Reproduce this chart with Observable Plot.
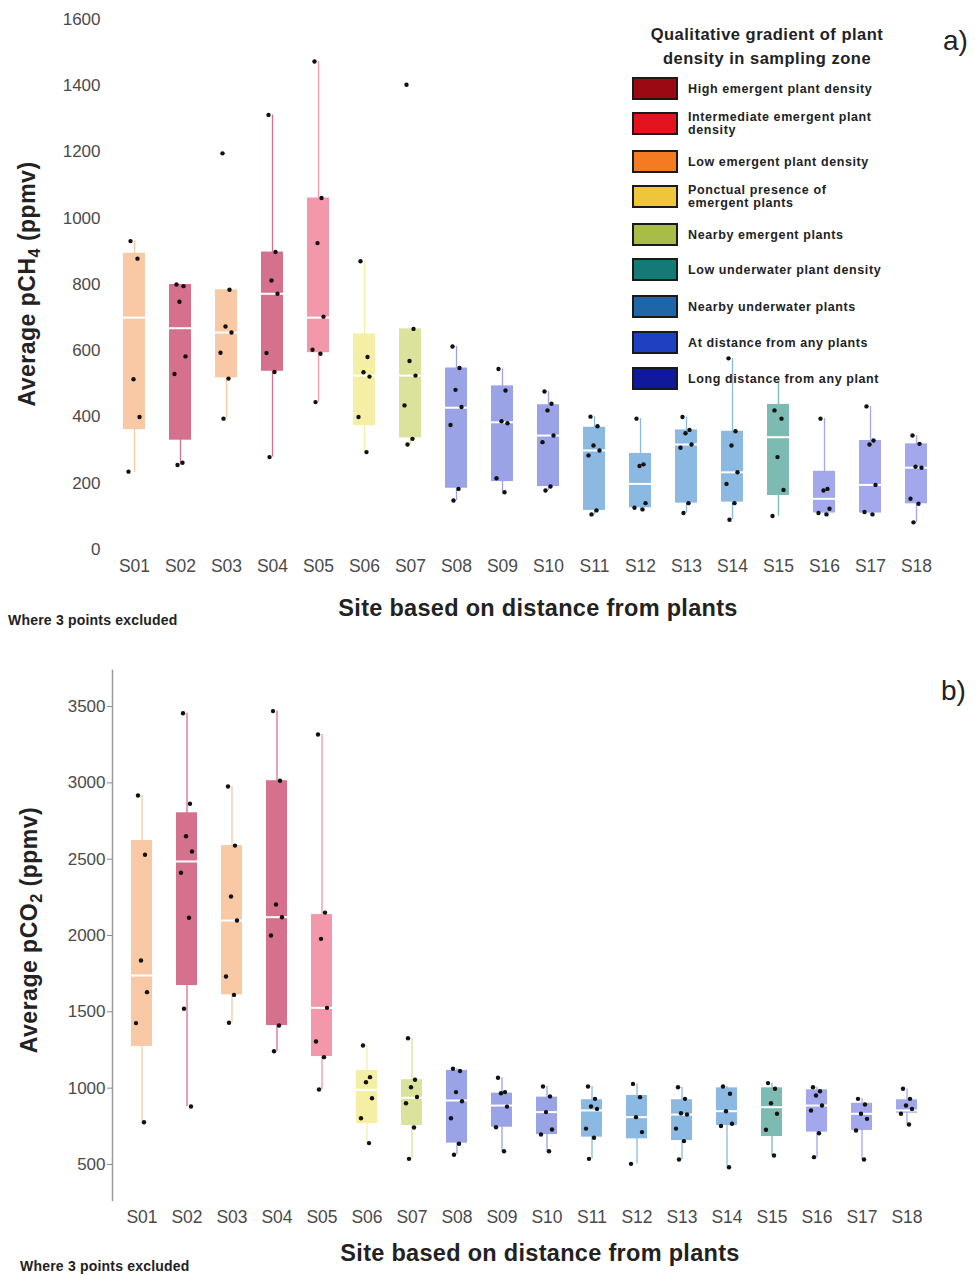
<!DOCTYPE html>
<html><head><meta charset="utf-8">
<script src="https://cdn.jsdelivr.net/npm/d3@7"></script>
<script src="https://cdn.jsdelivr.net/npm/@observablehq/plot@0.6"></script>
<style>
body{margin:0;background:#fff;font-family:"Liberation Sans",Arial,sans-serif;color:#222;}
#wrap{position:relative;width:977px;height:1275px;overflow:hidden;background:#fff;}
.abs{position:absolute;white-space:nowrap;}
.ytitle{font-weight:bold;font-size:23px;letter-spacing:0.5px;transform:translate(-50%,-50%) rotate(-90deg);}
.xtitle{font-weight:bold;font-size:23.5px;letter-spacing:0.3px;transform:translate(-50%,-50%);}
.note{font-weight:bold;font-size:14px;letter-spacing:0.2px;}
.tag{font-size:28px;}
.legend{position:absolute;left:627px;top:22px;width:280px;}
.legend .lt{font-weight:bold;font-size:16.5px;letter-spacing:0.5px;text-align:center;line-height:24px;width:280px;margin-left:0px;}
.sw{position:absolute;left:5px;width:42px;height:19px;border:2px solid #1a1a1a;}
.lb{position:absolute;left:61px;font-weight:bold;font-size:12.5px;letter-spacing:0.6px;line-height:13px;color:#222;white-space:nowrap;}
svg{position:absolute;left:0;}
</style></head><body><div id="wrap"></div>
<script>
const sites = ["S01","S02","S03","S04","S05","S06","S07","S08","S09","S10","S11","S12","S13","S14","S15","S16","S17","S18"];
// legend categories assigned to each site
const siteCategory = ["low","high","low","high","inter","ponct","nearEm","atDist","atDist","atDist","nearUw","nearUw","nearUw","nearUw","lowUw","longDist","longDist","longDist"];
const legendKeys = ["high","inter","low","ponct","nearEm","lowUw","nearUw","atDist","longDist"];
const legendLabels = ["High emergent plant density","Intermediate emergent plant<br>density","Low emergent plant density","Ponctual presence of<br>emergent plants","Nearby emergent plants","Low underwater plant density","Nearby underwater plants","At distance from any plants","Long distance from any plant"];

// panel a) CH4 (ppmv)
const ch4Low    = [233,255,395,279,445,294,317,148,173,178,106,121,110, 90,101,106,106, 82];
const ch4Q1     = [362,330,518,538,594,374,337,185,205,190,118,126,140,143,163,110,110,138];
const ch4Median = [700,668,655,772,700,525,525,428,384,344,299,198,317,233,339,153,195,247];
const ch4Q3     = [894,800,784,898,1061,651,666,548,494,437,369,290,361,357,438,236,329,319];
const ch4High   = [931,800,784,1312,1473,870,666,613,545,477,401,395,400,577,505,395,432,344];
const ch4Points = [
  [931,878,514,400,235],
  [800,795,748,583,530,262,255],
  [1196,784,673,655,594,516,395],
  [1312,898,812,772,593,536,279],
  [1473,1061,925,703,603,591,445],
  [870,581,535,522,400,294],
  [1403,666,569,525,435,334,317],
  [613,548,482,430,376,183,148],
  [545,480,387,381,215,173],
  [477,440,420,344,324,190,178],
  [401,372,314,299,284,118,106],
  [395,257,252,140,126,121],
  [400,361,351,317,307,140,110],
  [577,357,314,233,198,140,90],
  [420,395,279,180,101],
  [395,183,178,123,110,106],
  [432,329,317,195,113,106],
  [344,319,250,247,153,138,82]
];
// panel b) CO2 (ppmv)
const co2Low    = [777,880,1428,1242,991,640,537,564,587,587,537,504,533,482,559,548,533,762];
const co2Q1     = [1273,1672,1611,1410,1207,767,755,640,744,696,679,668,657,755,683,712,723,836];
const co2Median = [1738,2485,2098,2120,1526,989,937,919,886,843,854,810,827,849,875,886,832,854];
const co2Q3     = [2622,2804,2589,3014,2137,1116,1055,1116,967,941,924,952,924,1002,1002,989,901,924];
const co2High   = [2917,3456,2976,3470,3317,1279,1327,1127,1068,1011,1011,1028,1006,1011,1033,1006,930,996];
const co2Points = [
  [2917,2529,1836,1629,1426,777],
  [3456,2863,2650,2550,2411,2116,1520,880],
  [2976,2589,2255,2098,1731,1611,1428],
  [3470,3014,2203,2120,2000,1410,1242],
  [3317,2150,1978,1526,1306,1203,991],
  [1279,1072,1039,934,803,640],
  [1327,1055,1006,942,901,742,537],
  [1127,1112,974,914,803,636,564],
  [1068,974,967,879,744,587],
  [1011,946,843,729,696,587],
  [1011,930,880,864,735,675,537],
  [1028,941,810,712,504],
  [1006,930,836,827,735,653,533],
  [1011,963,849,767,752,482],
  [1033,996,901,832,727,559],
  [1006,980,952,886,854,705,548],
  [930,893,832,799,723,533],
  [996,930,886,864,832,762]
];
const ch4Ticks = [0,200,400,600,800,1000,1200,1400,1600];
const co2Ticks = [500,1000,1500,2000,2500,3000,3500];

// styles
const boxFill = {high:"#d6718d",inter:"#f397aa",low:"#f8c9a4",ponct:"#f5efa6",nearEm:"#dae29c",lowUw:"#7dbab2",nearUw:"#8cb9e2",atDist:"#99a3e5",longDist:"#a3a8ec"};
const legendFill = {high:"#9b0a12",inter:"#e3141e",low:"#f47b22",ponct:"#eec63a",nearEm:"#a8bd47",lowUw:"#147a76",nearUw:"#1e66a8",atDist:"#2040c2",longDist:"#10199b"};
const jitter = [-4,3,-1,5,-6,2,-3,4];

const wrap = document.getElementById("wrap");

function buildPanel(low,q1,med,q3,high,pts,cfg){
  const stats = sites.map((s,i)=>({site:s,cat:siteCategory[i],lo:low[i],q1:q1[i],med:med[i],q3:q3[i],hi:high[i]}));
  const dots = [];
  pts.forEach((arr,i)=>arr.forEach((v,j)=>dots.push({site:sites[i],v,j})));
  const dotMarks = jitter.map((dx,k)=>Plot.dot(dots.filter(d=>d.j%jitter.length===k),{x:"site",y:"v",r:2.2,fill:"#111",stroke:"none",dx}));
  const marks = [];
  if (cfg.frameLeft) marks.push(Plot.frame({anchor:"left",stroke:"#9a9a9a",strokeWidth:1.5}));
  marks.push(
    Plot.ruleX(stats,{x:"site",y1:"lo",y2:"hi",stroke:d=>boxFill[d.cat],strokeWidth:1.3}),
    Plot.barY(stats,{x:"site",y1:"q1",y2:"q3",fill:d=>boxFill[d.cat]}),
    Plot.tickY(stats,{x:"site",y:"med",stroke:"white",strokeWidth:2}),
    ...dotMarks,
    Plot.axisY({ticks:cfg.ticks,tickSize:cfg.tickSize,tickPadding:cfg.tickPadding,fontSize:17,fill:"#4a4a4a",stroke:"#888",label:null,tickFormat:d=>String(d)}),
    Plot.axisX({tickSize:0,tickPadding:cfg.xPad,fontSize:17.5,fill:"#4a4a4a",label:null})
  );
  const svg = Plot.plot({
    width:977,height:cfg.height,
    marginTop:cfg.mt,marginBottom:cfg.mb,marginLeft:cfg.ml,marginRight:25,
    style:{fontFamily:"'Liberation Sans',Arial,sans-serif",background:"transparent"},
    x:{type:"band",domain:sites,range:cfg.xRange,padding:cfg.pad,axis:null},
    y:{domain:cfg.yDomain,axis:null},
    color:{type:"identity"},
    marks
  });
  svg.style.top = cfg.top+"px";
  wrap.appendChild(svg);
}

buildPanel(ch4Low,ch4Q1,ch4Median,ch4Q3,ch4High,ch4Points,{
  top:0,height:640,mt:19,mb:91,ml:110,xRange:[97.8,951.3],pad:0.53,yDomain:[0,1600],
  ticks:ch4Ticks,tickSize:0,tickPadding:10,xPad:10,frameLeft:false
});
buildPanel(co2Low,co2Q1,co2Median,co2Q3,co2High,co2Points,{
  top:640,height:635,mt:30,mb:75,ml:112,xRange:[100.85,947.2],pad:0.54,yDomain:[264,3736],
  ticks:co2Ticks,tickSize:5,tickPadding:2,xPad:10,frameLeft:true
});

function addText(cls,html,x,y){
  const d=document.createElement("div");
  d.className="abs "+cls; d.innerHTML=html;
  d.style.left=x+"px"; d.style.top=y+"px";
  wrap.appendChild(d); return d;
}
addText("ytitle","Average pCH<sub style='font-size:0.7em'>4</sub> (ppmv)",29,284);
addText("xtitle","Site based on distance from plants",538,608);
addText("note","Where 3 points excluded",8,612);
addText("tag","a)",943,25);
addText("ytitle","Average pCO<sub style='font-size:0.7em'>2</sub> (ppmv)",31,930);
addText("xtitle","Site based on distance from plants",540,1253);
addText("note","Where 3 points excluded",20,1258);
addText("tag","b)",941,675);

// legend
const lg=document.createElement("div"); lg.className="legend";
let html="<div class='lt'>Qualitative gradient of plant<br>density in sampling zone</div>";
const swTops=[77,112,150,185,223,258,295,331,367];
legendKeys.forEach((k,i)=>{
  const t=swTops[i]-22;
  html+=`<div class='sw' style='top:${t}px;background:${legendFill[k]}'></div>`;
  html+=`<div class='lb' style='top:${t+11.5}px;transform:translateY(-50%)'>${legendLabels[i]}</div>`;
});
lg.innerHTML=html; wrap.appendChild(lg);
</script></body></html>
